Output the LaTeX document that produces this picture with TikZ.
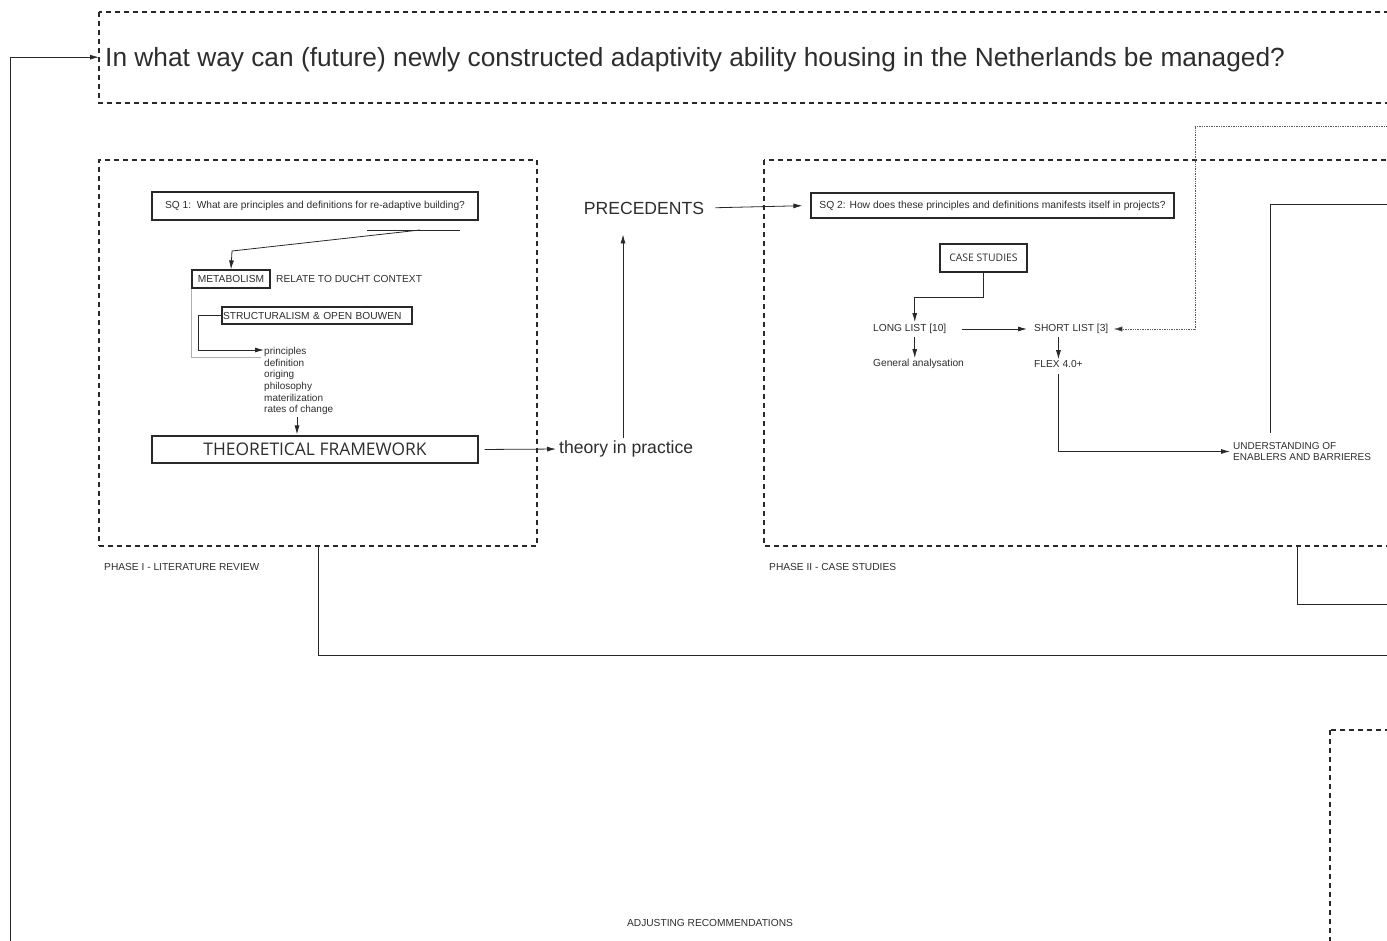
\documentclass[tikz,border=0pt]{standalone}
\usepackage{fontspec}
\setmainfont{Liberation Sans}
\newfontfamily\opensans{Open Sans}
\usetikzlibrary{arrows.meta}
\definecolor{inkgray}{RGB}{45,45,45}
\definecolor{linegray}{RGB}{40,40,40}
\definecolor{palegray}{RGB}{175,175,175}
\definecolor{dotgray}{RGB}{90,90,90}

\begin{document}
\begin{tikzpicture}[x=1pt, y=-1pt,
    phasebox/.style={draw=linegray, line width=1.1pt, dash pattern=on 5pt off 4pt},
    qbox/.style={draw=linegray, line width=1.2pt, inner sep=0pt, text=inkgray},
    lbl/.style={inner sep=0pt, text=inkgray, font=\fontsize{10.2}{12}\selectfont},
    conn/.style={draw=linegray, line width=0.8pt},
    arr/.style={conn, -{Latex[length=9pt,width=5pt]}}]
    \useasboundingbox (0,0) rectangle (1387,940);
    \clip (0,0) rectangle (1387,940);

    % Hoofdvraag
    \draw[phasebox] (99,12) rectangle (1400,103);
    \node[anchor=base west, inner xsep=6pt, inner ysep=0pt, text=inkgray, font=\fontsize{26.3}{30}\selectfont] (rq) at (99,66)
        {In what way can (future) newly constructed adaptivity ability housing in the Netherlands be managed?};
    \coordinate (fbfoot) at (10,945);
    \draw[arr] (fbfoot) |- ([yshift=2pt]rq.west);

    % Fase I
    \node[phasebox, minimum width=438pt, minimum height=386pt, inner sep=0pt] (phaseone) at (318,353) {};
    \node[lbl, anchor=west] (phaseonelbl) at (104,567) {PHASE I - LITERATURE REVIEW};

    \node[qbox, minimum width=326pt, minimum height=28pt, font=\fontsize{10.2}{12}\selectfont] (sqone) at (315,206)
        {SQ 1:\ \ What are principles and definitions for re-adaptive building?};
    \coordinate (sqtail) at (460,230);
    \coordinate (sqbend) at (420,230);
    \draw[conn] (sqtail) -- ++(-93,0);
    \node[qbox, minimum width=78pt, minimum height=18pt, font=\fontsize{10.2}{12}\selectfont] (meta) at (231,279) {METABOLISM};
    \draw[arr] (sqbend) -- (232,251) -- (meta.north);
    \node[lbl, anchor=west] (ducht) at (276,279) {RELATE TO DUCHT CONTEXT};
    \node[qbox, text width=188pt, align=left, inner xsep=1pt, minimum height=17pt, font=\fontsize{10.2}{12}\selectfont] (struct) at (317,315.5)
        {STRUCTURALISM \& OPEN BOUWEN};

    \node[lbl, anchor=north west, align=left, font=\fontsize{10}{11.7}\selectfont] (crit) at (264,347)
        {principles\\definition\\origing\\philosophy\\materilization\\rates of change};
    \draw[palegray, line width=0.8pt] (meta.south west) -- ++(0,69) -- ++(70,0);
    \draw[arr] (struct.west) -- ++(-23,0) |- ([yshift=-3pt]crit.north west);

    \node[qbox, minimum width=326pt, minimum height=27pt, font=\opensans\fontsize{17.4}{20}\selectfont] (tf) at (315,449.5)
        {THEORETICAL FRAMEWORK};
    \draw[arr, shorten <=2pt, shorten >=1pt] (crit.south -| 297,0) -- (297,0 |- tf.north);

    % Tussenstap
    \node[inner sep=0pt, anchor=west, text=inkgray, font=\fontsize{17.6}{20}\selectfont] (tip) at (559,449) {theory in practice};
    \node[inner sep=0pt, text=inkgray, font=\fontsize{17.6}{20}\selectfont] (prec) at (644,208) {PRECEDENTS};
    \draw[arr, shorten <=6pt, shorten >=3pt] (tf.east) -- (tip.west);
    \draw[arr, shorten <=3pt, shorten >=20pt] (623,0 |- tip.north) -- (623,0 |- prec.south);

    % Fase II
    \draw[phasebox] (764,160) rectangle (1400,546);
    \node[lbl, anchor=west] (phasetwolbl) at (769,567) {PHASE II - CASE STUDIES};
    \node[qbox, minimum width=363pt, minimum height=25pt, font=\fontsize{10.3}{12}\selectfont] (sqtwo) at (992.5,205.5)
        {SQ 2: How does these principles and definitions manifests itself in projects?};
    \draw[arr, shorten <=11pt, shorten >=8pt] (prec.east) -- (sqtwo.west);

    \node[qbox, minimum width=87pt, minimum height=28pt, font=\opensans\fontsize{10.4}{12}\selectfont] (cs) at (983.5,258) {CASE STUDIES};
    \node[lbl, anchor=west] (ll) at (873,329) {LONG LIST [10]};
    \node[lbl, anchor=west] (sl) at (1034,329) {SHORT LIST [3]};
    \node[lbl, anchor=west] (ga) at (873,364) {General analysation};
    \node[lbl, anchor=west] (flex) at (1034,364) {FLEX 4.0+};
    \node[lbl, anchor=west, align=left, font=\fontsize{10}{11}\selectfont] (ueb) at (1233,451.5)
        {UNDERSTANDING OF\\ENABLERS AND BARRIERES};

    \draw[arr, shorten >=2pt] (cs.south) -- ++(0,25) -| ([xshift=5pt]ll.north);
    \draw[arr, shorten <=15pt, shorten >=7pt] (ll.east) -- (sl.west);
    \draw[arr, shorten <=3pt, shorten >=1pt] ([xshift=5pt]ll.south) -- ([xshift=5pt]ll.south |- ga.north);
    \draw[arr, shorten <=3pt, shorten >=1pt] (flex.north |- sl.south) -- (flex.north);
    \draw[arr, shorten <=6pt, shorten >=3pt] (flex.south) |- (ueb.west);

    \coordinate (dotin) at (1400,126);
    \coordinate (dotbend) at (1195,329);
    \draw[densely dotted, draw=dotgray, line width=0.7pt, -{Latex[length=9pt,width=5.5pt,fill=linegray]}, shorten >=5pt]
        (dotin) -| (dotbend) -- (sl.east);
    \coordinate (uebout) at (1400,204);
    \draw[conn, shorten <=9pt] (1270,0 |- ueb.north) |- (uebout);

    % Terugkoppeling
    \coordinate (outone) at (1400,655);
    \draw[conn] (phaseone.south) |- (outone);
    \coordinate (twofoot) at (1297,546);
    \coordinate (outtwo) at (1400,604);
    \draw[conn] (twofoot) |- (outtwo);

    % Fase III
    \draw[phasebox] (1330,730) rectangle (1400,960);
    \node[lbl] (adjust) at (710,923) {ADJUSTING RECOMMENDATIONS};
\end{tikzpicture}
\end{document}
